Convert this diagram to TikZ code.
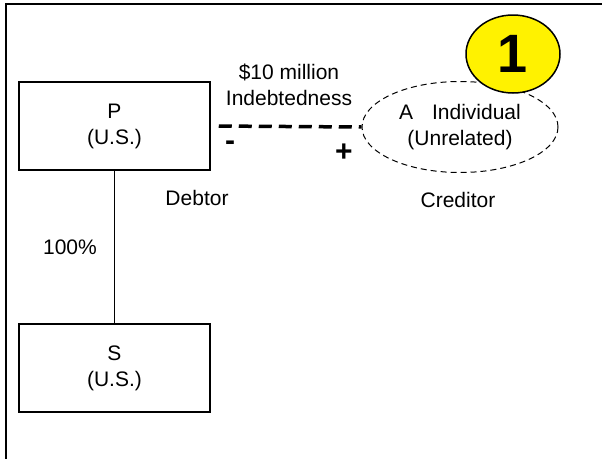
\documentclass[tikz,border=0pt]{standalone}
\usepackage{fontspec}
\setmainfont{Liberation Sans}
\usetikzlibrary{shapes.geometric}

\tikzset{
  entity/.style={draw, line width=1.5pt, minimum width=191pt, minimum height=88pt, align=center, inner sep=0pt},
  party/.style={draw, ellipse, dashed, dash pattern=on 6pt off 4pt, line width=1pt, minimum width=196pt, minimum height=91pt, align=center, inner sep=0pt},
  badge/.style={draw, ellipse, line width=1.5pt, fill=yellow, minimum width=94pt, minimum height=78pt, inner sep=0pt},
  debt/.style={line width=3.5pt, dash pattern=on 13pt off 7pt},
  lbl/.style={align=center, inner sep=0pt},
  sign/.style={inner sep=0pt, font=\fontsize{30}{30}\selectfont\bfseries}
}

\begin{document}
\begin{tikzpicture}[x=1pt, y=-1pt, font=\fontsize{21}{26}\selectfont]
    \useasboundingbox (0,0) rectangle (602,458);

    % frame
    \draw[line width=2.5pt] (6,460) -- (6,4) -- (604,4);

    \node[entity] (P) at (114.5,126) {P\\(U.S.)};
    \node[entity] (S) at (114.5,368) {S\\(U.S.)};
    \node[party] (A) at (460,127) {A\hspace{0.9em}Individual\\(Unrelated)};
    \node[badge] (one) at (513,54) {\fontsize{54}{54}\selectfont\bfseries 1};

    \draw[line width=1pt] (P) -- (S);
    \draw[debt, shorten <=8pt] (P.east) -- (A.west);

    \node[lbl] (amount) at (289,85) {\$10 million\\Indebtedness};
    \node[sign] (minus) at (230,146) {-};
    \node[sign] (plus) at (344,153) {+};
    \node[lbl] (debtor) at (197,198) {Debtor};
    \node[lbl] (creditor) at (458,200) {Creditor};
    \node[lbl] (pct) at (70,247) {100\%};
\end{tikzpicture}
\end{document}
